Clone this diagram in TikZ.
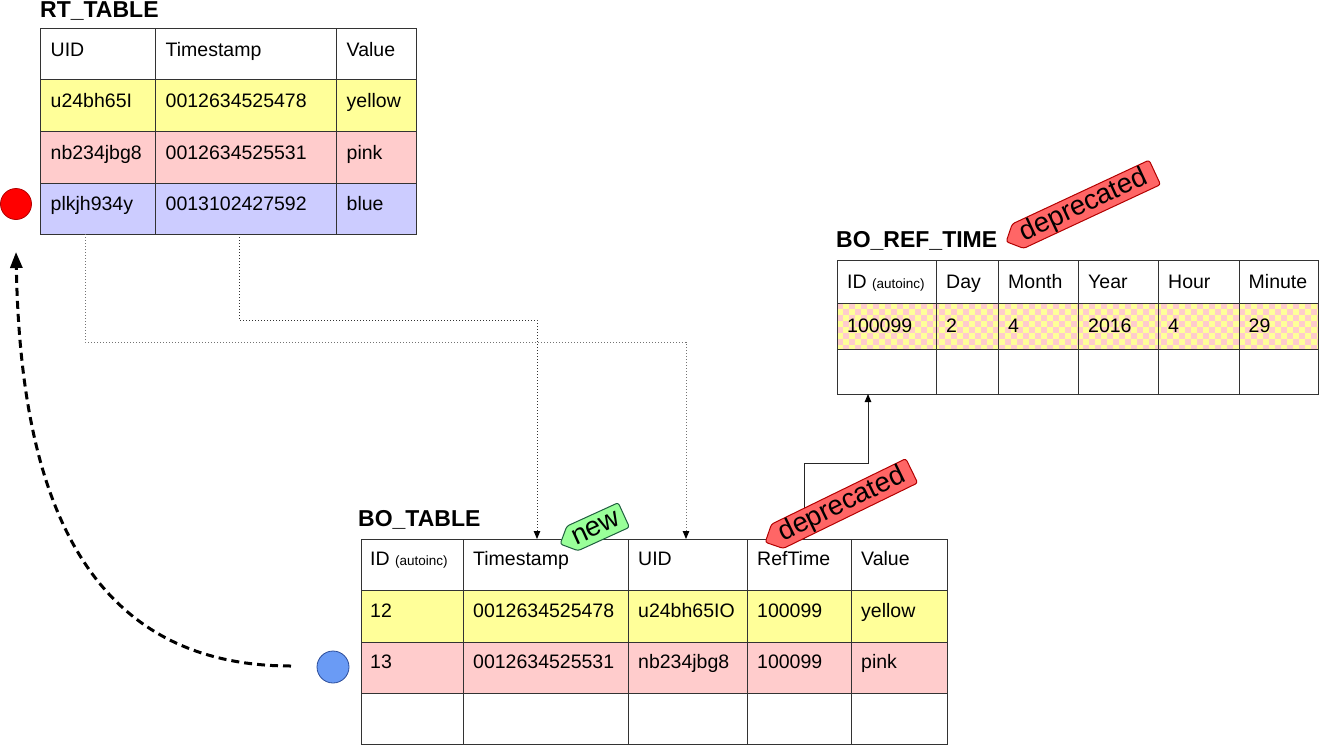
\documentclass[tikz,border=0pt]{standalone}
\usepackage{fontspec}
\setmainfont{Liberation Sans}
\usetikzlibrary{arrows.meta}
\definecolor{yel}{HTML}{FFFF99}
\definecolor{pnk}{HTML}{FFCCCC}
\definecolor{blu}{HTML}{CCCCFF}
\definecolor{gridc}{HTML}{333333}
\definecolor{tagred}{HTML}{FF6666}
\definecolor{tagredd}{HTML}{B20000}
\definecolor{taggrn}{HTML}{99FF99}
\definecolor{taggrnd}{HTML}{1F5F3F}
\definecolor{circblue}{HTML}{6A9BF5}
\definecolor{circblued}{HTML}{2B4C99}
\newcommand\tabfont{\fontsize{19.5}{22}\selectfont}
\newcommand\titfont{\fontsize{23}{25}\selectfont\bfseries}
\newcommand\tagfont{\fontsize{27.5}{29}\selectfont}
\newcommand\autoincnote{{\fontsize{13.5}{15}\selectfont (autoinc)}}
\begin{document}
\begin{tikzpicture}[x=1pt,y=-1pt,
  grid/.style={draw=gridc,line width=0.9pt},
  cell/.style={anchor=base west,inner sep=0,font=\tabfont},
  tabtitle/.style={anchor=base west,inner sep=0,font=\titfont},
  dotc/.style={draw=#1,line width=0.9pt,dash pattern=on 1.2pt off 1.8pt,-{Triangle[length=8pt,width=6.5pt,color=black]}},
  solidc/.style={draw=black!85,line width=0.9pt,-{Triangle[length=8pt,width=6.5pt,color=black]}},
  dashc/.style={draw=black,line width=3pt,dash pattern=on 8pt off 5pt,-{Triangle[length=16pt,width=12pt]}},
  tagshape/.style={draw=#1,line width=1pt,rounded corners=2.5pt},
  tagtext/.style={inner sep=0,font=\tagfont,rotate=#1}
]
\useasboundingbox (0,0) rectangle (1320,745);

% ---------------- RT_TABLE ----------------
\node[tabtitle] (rttitle) at (40,17.5) {RT\_TABLE};
\fill[white] (40,28) rectangle (416,79);
\fill[yel] (40,79) rectangle (416,131);
\fill[pnk] (40,131) rectangle (416,183);
\fill[blu] (40,183) rectangle (416,234);
\foreach \yy in {79,131,183} \draw[grid] (40,\yy) -- (416,\yy);
\foreach \xx in {155,336} \draw[grid] (\xx,28) -- (\xx,234);
\draw[grid] (40,28) rectangle (416,234);
\foreach \xx/\yy/\tt [count=\i] in {
  50.5/56.5/UID, 165.5/56.5/Timestamp, 346.5/56.5/Value,
  50.5/107.5/u24bh65I, 165.5/107.5/0012634525478, 346.5/107.5/yellow,
  50.5/159/nb234jbg8, 165.5/159/0012634525531, 346.5/159/pink,
  50.5/210.5/plkjh934y, 165.5/210.5/0013102427592, 346.5/210.5/blue}
  \node[cell] (rt\i) at (\xx,\yy) {\tt};

% ---------------- BO_REF_TIME ----------------
\node[tabtitle] (reftitle) at (836,247) {BO\_REF\_TIME};
\fill[white] (837,260) rectangle (1318,303);
\begin{scope}
  \clip (837,303) rectangle (1318,349);
  \fill[yel] (837,303) rectangle (1318,349);
  \foreach \j in {0,...,7}{
    \pgfmathtruncatemacro\off{mod(\j,2)*6}
    \foreach \i in {0,12,...,480}{
      \fill[pnk] (837+\i+\off,303+\j*6) rectangle ++(6,6);
    }
  }
\end{scope}
\fill[white] (837,349) rectangle (1318,394);
\foreach \yy in {303,349} \draw[grid] (837,\yy) -- (1318,\yy);
\foreach \xx in {936,998,1078,1158,1239} \draw[grid] (\xx,260) -- (\xx,394);
\draw[grid] (837,260) rectangle (1318,394);
\foreach \xx/\yy/\tt [count=\i] in {
  847/288.5/ID \autoincnote, 946/288.5/Day, 1008/288.5/Month, 1088/288.5/Year, 1168/288.5/Hour, 1248.5/288.5/Minute,
  847/332/100099, 946/332/2, 1008/332/4, 1088/332/2016, 1168/332/4, 1248.5/332/29}
  \node[cell] (ref\i) at (\xx,\yy) {\tt};

% ---------------- BO_TABLE ----------------
\node[tabtitle] (botitle) at (358,526) {BO\_TABLE};
\fill[white] (361,539) rectangle (947,590);
\fill[yel] (361,590) rectangle (947,642);
\fill[pnk] (361,642) rectangle (947,693);
\fill[white] (361,693) rectangle (947,744.5);
\foreach \yy in {590,642,693} \draw[grid] (361,\yy) -- (947,\yy);
\foreach \xx in {463,628,747,851} \draw[grid] (\xx,539) -- (\xx,744.5);
\draw[grid] (361,539) rectangle (947,744.5);
\foreach \xx/\yy/\tt [count=\i] in {
  370/565.5/ID \autoincnote, 473/565.5/Timestamp, 638/565.5/UID, 757/565.5/RefTime, 861/565.5/Value,
  370/617/12, 473/617/0012634525478, 638/617/u24bh65IO, 757/617/100099, 861/617/yellow,
  370/668.5/13, 473/668.5/0012634525531, 638/668.5/nb234jbg8, 757/668.5/100099, 861/668.5/pink}
  \node[cell] (bo\i) at (\xx,\yy) {\tt};

% ---------------- circles ----------------
\node[circle,fill=red,draw=tagredd,line width=0.8pt,minimum size=31pt,inner sep=0] (redc) at (16,204) {};
\node[circle,fill=circblue,draw=circblued,line width=0.8pt,minimum size=32pt,inner sep=0] (bluec) at (333,667) {};

% ---------------- connectors ----------------
\coordinate (rtuid) at (85,234);
\coordinate (rtts) at (239,234);
\coordinate (bouid) at (686,539);
\coordinate (bots) at (537,539);
\coordinate (boref) at (804,539);
\coordinate (refid) at (868,394);
\coordinate (dstart) at (291,666);
\coordinate (dend) at (16,252);

\draw[dotc=black!55] (rtuid) -- ++(0,108) -| (bouid);
\draw[dotc=black!80] (rtts) -- ++(0,86) -| (bots);
\draw[solidc] (boref) -- ++(0,-76) -| (refid);
\draw[dashc] (dstart) .. controls (60,666) and (20,450) .. (dend);

% ---------------- tags ----------------
\begin{scope}[shift={(1080.5,207)},rotate=25]
  \filldraw[tagshape=tagredd,fill=tagred] (-82,0) -- (-69,-13.5) -- (82,-13.5) -- (82,13.5) -- (-69,13.5) -- cycle;
\end{scope}
\node[tagtext=25] (tagref) at (1084,205.5) {deprecated};

\begin{scope}[shift={(838.5,506.5)},rotate=26]
  \filldraw[tagshape=tagredd,fill=tagred] (-81.5,0) -- (-68,-13.5) -- (81.5,-13.5) -- (81.5,13.5) -- (-68,13.5) -- cycle;
\end{scope}
\node[tagtext=26] (tagbo) at (842,505) {deprecated};

\begin{scope}[shift={(592,529.5)},rotate=24.5]
  \filldraw[tagshape=taggrnd,fill=taggrn] (-35,0) -- (-21.5,-13.5) -- (35,-13.5) -- (35,13.5) -- (-21.5,13.5) -- cycle;
\end{scope}
\node[tagtext=24.5] (tagnew) at (596,528) {new};
\end{tikzpicture}
\end{document}
